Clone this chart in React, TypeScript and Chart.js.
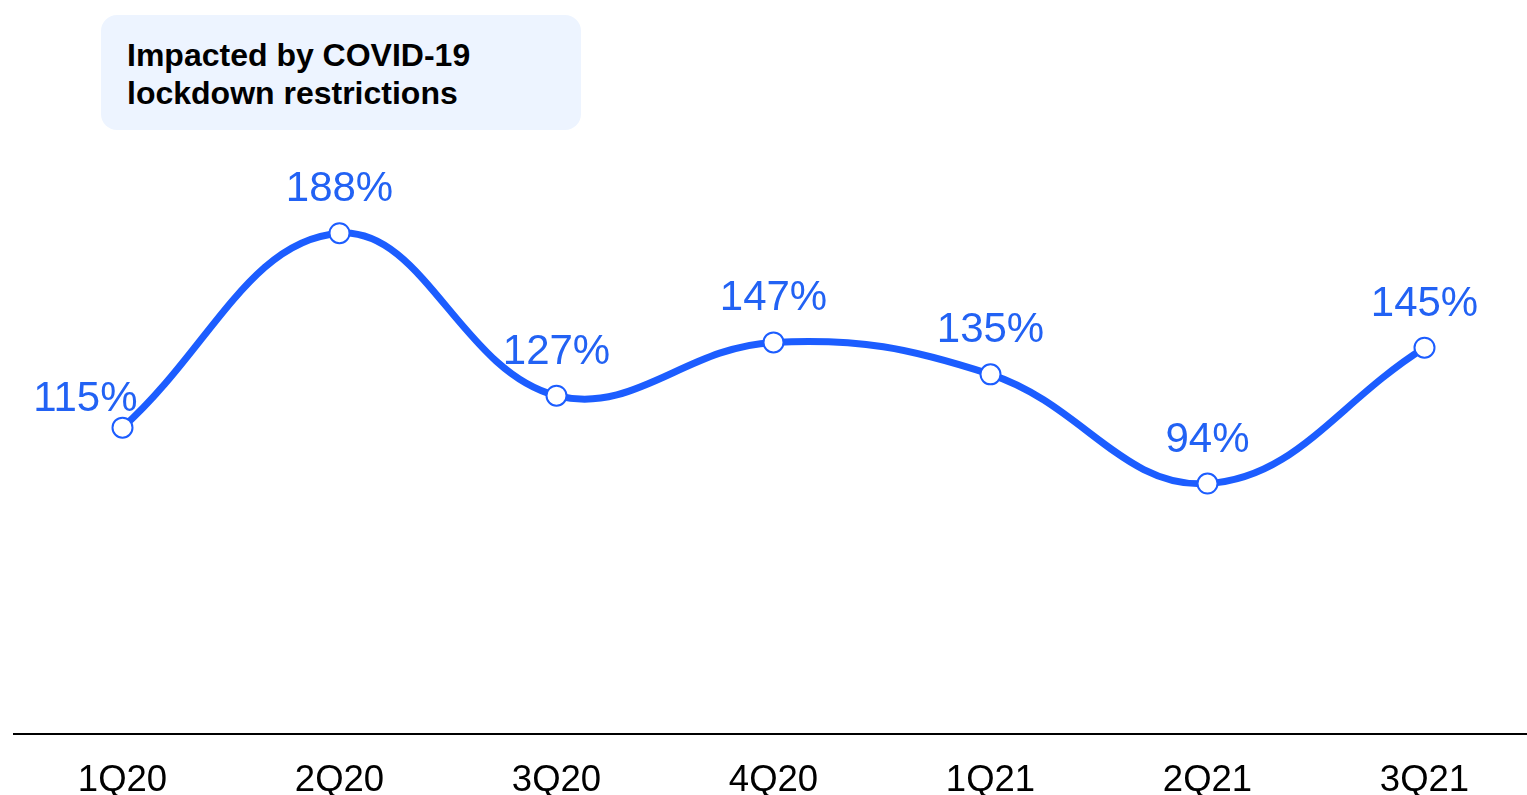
import React, { useEffect, useRef } from "react";
import { Chart, registerables } from "chart.js";

Chart.register(...registerables);

const categories = ["1Q20", "2Q20", "3Q20", "4Q20", "1Q21", "2Q21", "3Q21"];
const values = [115, 188, 127, 147, 135, 94, 145];
const valueLabels = ["115%", "188%", "127%", "147%", "135%", "94%", "145%"];
const noteLines = ["Impacted by COVID-19", "lockdown restrictions"];

const LINE_BLUE = "#1C5DFF";
const LABEL_BLUE = "#2262F4";
const FONT = "'Liberation Sans', Arial, Helvetica, sans-serif";

const labelPlugin = {
  id: "valueLabels",
  afterDatasetsDraw(chart: any) {
    const ctx = chart.ctx;
    const meta = chart.getDatasetMeta(0);
    ctx.save();
    ctx.font = `42px ${FONT}`;
    ctx.fillStyle = LABEL_BLUE;
    ctx.textBaseline = "alphabetic";
    meta.data.forEach((pt: any, i: number) => {
      const text = valueLabels[i];
      if (i === 0) {
        ctx.textAlign = "right";
        ctx.fillText(text, pt.x + 15, pt.y - 17);
      } else {
        ctx.textAlign = "center";
        ctx.fillText(text, pt.x, pt.y - 32);
      }
    });
    ctx.restore();
  },
};

export default function App() {
  const canvasRef = useRef<HTMLCanvasElement | null>(null);

  useEffect(() => {
    if (!canvasRef.current) return;
    const chart = new Chart(canvasRef.current, {
      type: "line",
      data: {
        labels: categories,
        datasets: [
          {
            data: values,
            borderColor: LINE_BLUE,
            borderWidth: 7,
            tension: 0.4,
            fill: false,
            pointRadius: 10,
            pointBorderWidth: 2,
            pointBackgroundColor: "#ffffff",
            pointBorderColor: LINE_BLUE,
            clip: false as any,
          },
        ],
      },
      options: {
        animation: false,
        responsive: false,
        layout: { padding: { left: 14, right: 0, top: 68, bottom: 0 } },
        plugins: {
          legend: { display: false },
          tooltip: { enabled: false },
        },
        scales: {
          x: {
            offset: true,
            grid: { display: false, drawTicks: false, tickLength: 0 },
            border: { display: true, color: "#000000", width: 2 },
            ticks: {
              color: "#000000",
              font: { family: FONT, size: 36.5 },
              padding: 25,
              maxRotation: 0,
              autoSkip: false,
            },
            afterFit(scale: any) {
              scale.height = 61;
            },
          },
          y: {
            display: false,
            min: 0,
            max: 250,
          },
        },
      },
      plugins: [labelPlugin],
    });
    return () => chart.destroy();
  }, []);

  return (
    <div
      style={{
        position: "fixed",
        left: 0,
        top: 0,
        width: 1527,
        height: 795,
        overflow: "hidden",
        background: "#ffffff",
      }}
    >
      <div style={{ width: 1545, height: 795 }}>
        <canvas ref={canvasRef} width={1545} height={795} style={{ display: "block" }} />
      </div>
      <div
        style={{
          position: "absolute",
          left: 101,
          top: 15,
          width: 480,
          height: 115,
          borderRadius: 16,
          background: "#EDF4FF",
        }}
      />
      <div
        style={{
          position: "absolute",
          left: 127,
          top: 36,
          fontFamily: FONT,
          fontWeight: "bold",
          fontSize: 32,
          lineHeight: "38px",
          color: "#000000",
          whiteSpace: "nowrap",
        }}
      >
        {noteLines.map((l) => (
          <div key={l}>{l}</div>
        ))}
      </div>
    </div>
  );
}
